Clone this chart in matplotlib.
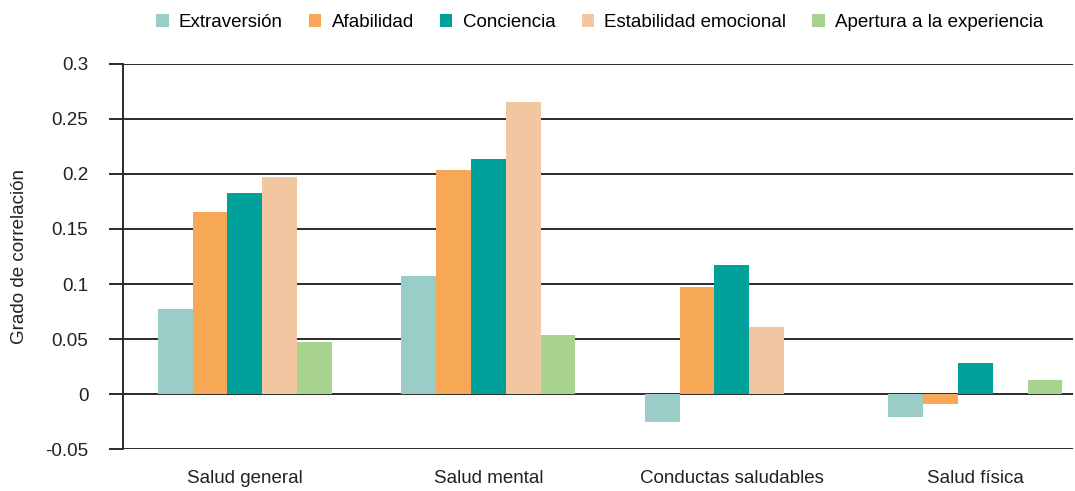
import numpy as np
import matplotlib
matplotlib.use('Agg')
import matplotlib.pyplot as plt

plt.rcParams['font.family'] = ['Liberation Sans', 'DejaVu Sans']

categories = ['Salud general', 'Salud mental', 'Conductas saludables', 'Salud física']
series_names = ['Extraversión', 'Afabilidad', 'Conciencia',
                'Estabilidad emocional', 'Apertura a la experiencia']

extraversion = [0.077, 0.107, -0.025, -0.021]
afabilidad = [0.165, 0.204, 0.097, -0.009]
conciencia = [0.183, 0.214, 0.117, 0.028]
estabilidad = [0.197, 0.265, 0.061, 0.0]
apertura = [0.047, 0.054, 0.0, 0.013]

yticks = [-0.05, 0, 0.05, 0.1, 0.15, 0.2, 0.25, 0.3]
ytick_labels = ['-0.05', '0', '0.05', '0.1', '0.15', '0.2', '0.25', '0.3']

colors = ['#9bcdc8', '#f7a857', '#00a19b', '#f2c6a0', '#a8d38f']
values = [extraversion, afabilidad, conciencia, estabilidad, apertura]

fig = plt.figure(figsize=(10.75, 4.91), dpi=100)
ax = fig.add_axes([0.1144, 0.0855, 0.8836, 0.7842])

x = np.arange(len(categories))
width = 0.143
for i, (name, vals, col) in enumerate(zip(series_names, values, colors)):
    ax.bar(x + (i - 2) * width, vals, width, color=col, label=name,
           zorder=3, linewidth=0)

ax.set_ylim(-0.05, 0.3)
ax.set_xlim(-0.5, 3.4)
ax.set_yticks(yticks)
ax.set_yticklabels(ytick_labels)
ax.set_xticks(x)
ax.set_xticklabels(categories)

ax.yaxis.grid(True, color='#2b2b2b', linewidth=1.4, zorder=0)
ax.tick_params(axis='y', length=10, width=1.4, color='#2b2b2b',
               labelsize=13.5, labelcolor='#222222', pad=15)
ax.tick_params(axis='x', length=0, labelsize=13.5, labelcolor='#222222', pad=15)

for s in ['top', 'right', 'bottom']:
    ax.spines[s].set_visible(False)
ax.spines['left'].set_color('#2b2b2b')
ax.spines['left'].set_linewidth(1.4)

ax.set_ylabel('Grado de correlación', fontsize=13.5, color='#222222', labelpad=12)

fig.legend(loc='upper center', bbox_to_anchor=(0.558, 1.006), ncol=5,
           frameon=False, fontsize=13.5, handlelength=0.65, handleheight=0.65,
           handletextpad=0.55, columnspacing=1.4)

plt.savefig('out.png', dpi=100)
